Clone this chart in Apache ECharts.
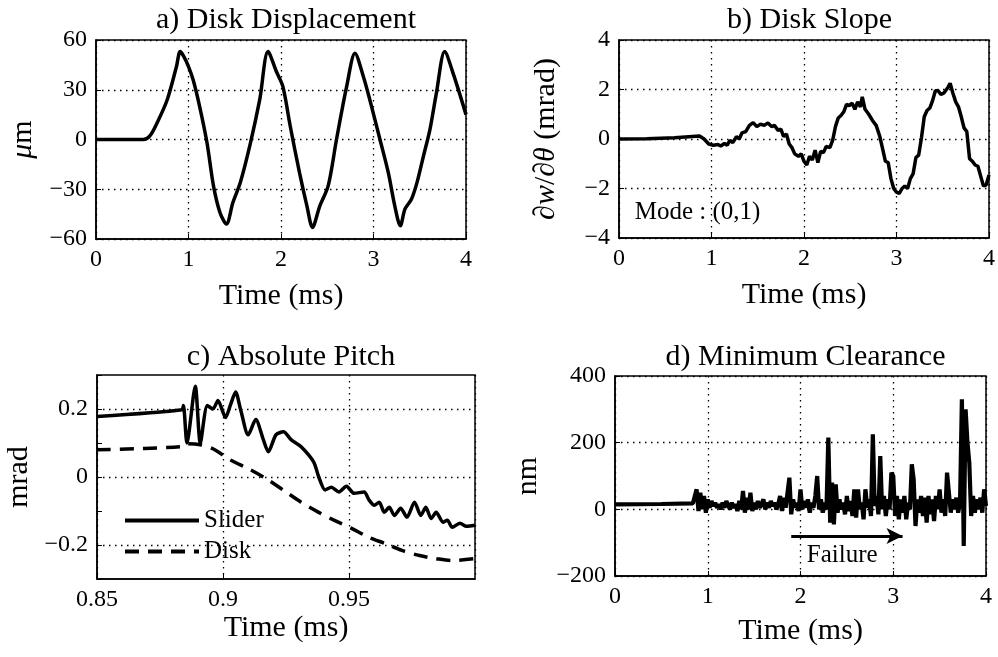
<!DOCTYPE html>
<html><head><meta charset="utf-8">
<script src="https://cdn.jsdelivr.net/npm/echarts@6/dist/echarts.min.js"></script>
<style>html,body{margin:0;padding:0;background:#fff;}#c{width:998px;height:657px;}</style>
</head><body><div id="c"></div>
<script>
// ---- Panel a: Disk displacement (um) ----
var aTime = [0, 0.3, 0.51, 0.58, 0.66, 0.77, 0.87, 0.91, 0.95, 1.0, 1.05, 1.12, 1.2, 1.27, 1.34, 1.41, 1.48, 1.56, 1.67, 1.77, 1.86, 1.95, 2.02, 2.1, 2.2, 2.28, 2.34, 2.42, 2.51, 2.6, 2.71, 2.8, 2.89, 2.96, 3.07, 3.16, 3.23, 3.29, 3.34, 3.41, 3.47, 3.54, 3.61, 3.68, 3.77, 3.86, 4.0];
var aValue = [0, 0, 0, 2, 10, 24, 44, 53, 50, 44, 36, 20, -2, -28, -44, -51, -38, -26, -2, 24, 53, 41, 32, 8, -20, -40, -53, -40, -28, 0, 32, 52, 38, 24, 0, -20, -40, -52, -42, -36, -26, -10, 6, 28, 53, 40, 15];

// ---- Panel b: Disk slope (mrad) ----
var bTime = [0, 0.3, 0.6, 0.87, 0.92, 0.97, 1.02, 1.07, 1.1, 1.14, 1.17, 1.2, 1.23, 1.27, 1.3, 1.33, 1.37, 1.41, 1.45, 1.49, 1.53, 1.57, 1.61, 1.65, 1.68, 1.72, 1.75, 1.78, 1.81, 1.84, 1.87, 1.9, 1.94, 1.97, 2.0, 2.03, 2.06, 2.09, 2.12, 2.15, 2.18, 2.21, 2.24, 2.28, 2.31, 2.34, 2.37, 2.4, 2.43, 2.46, 2.49, 2.52, 2.55, 2.58, 2.61, 2.63, 2.66, 2.7, 2.74, 2.78, 2.82, 2.85, 2.88, 2.91, 2.94, 2.97, 3.0, 3.03, 3.06, 3.09, 3.12, 3.15, 3.18, 3.21, 3.24, 3.27, 3.3, 3.33, 3.36, 3.39, 3.42, 3.45, 3.48, 3.51, 3.55, 3.58, 3.61, 3.64, 3.67, 3.7, 3.73, 3.76, 3.79, 3.82, 3.85, 3.88, 3.91, 3.94, 3.97, 4.0];
var bValue = [0, 0.01, 0.05, 0.12, 0.0, -0.2, -0.25, -0.22, -0.28, -0.18, -0.25, -0.05, -0.15, 0.1, 0.0, 0.25, 0.3, 0.55, 0.66, 0.5, 0.6, 0.55, 0.65, 0.5, 0.55, 0.35, 0.4, 0.1, 0.2, -0.2, -0.35, -0.6, -0.7, -0.6, -0.9, -1.05, -0.7, -0.85, -0.45, -0.95, -0.5, -0.55, -0.3, -0.35, -0.05, 0.5, 0.85, 0.95, 1.1, 1.4, 1.35, 1.45, 1.2, 1.5, 1.3, 1.7, 1.2, 1.0, 0.75, 0.55, 0.1, -0.4, -0.9, -0.95, -1.6, -2.0, -2.15, -2.2, -2.0, -1.9, -2.0, -1.6, -1.4, -0.75, -0.65, 0.05, 0.9, 1.15, 1.25, 1.55, 1.95, 1.95, 1.8, 1.85, 2.05, 2.25, 1.85, 1.5, 1.3, 0.9, 0.45, 0.3, -0.8, -0.9, -1.05, -1.1, -1.5, -1.9, -1.85, -1.45];

// ---- Panel c: Absolute pitch (mrad) ----
var cSliderTime = [0.85, 0.8837, 0.8843, 0.8857, 0.889, 0.891, 0.8938, 0.896, 0.898, 0.901, 0.903, 0.905, 0.907, 0.91, 0.913, 0.916, 0.918, 0.921, 0.924, 0.927, 0.931, 0.936, 0.938, 0.9405, 0.943, 0.946, 0.949, 0.952, 0.956, 0.958, 0.96, 0.962, 0.964, 0.966, 0.968, 0.9705, 0.973, 0.976, 0.9785, 0.9805, 0.9826, 0.9846, 0.9873, 0.989, 0.991, 0.994, 0.9966, 1.0];
var cSliderValue = [0.178, 0.198, 0.21, 0.10, 0.267, 0.10, 0.21, 0.2, 0.225, 0.175, 0.213, 0.25, 0.198, 0.124, 0.169, 0.11, 0.074, 0.124, 0.133, 0.11, 0.089, 0.044, 0, -0.038, -0.03, -0.044, -0.027, -0.048, -0.044, -0.068, -0.083, -0.074, -0.104, -0.089, -0.113, -0.092, -0.118, -0.074, -0.113, -0.089, -0.122, -0.104, -0.133, -0.127, -0.148, -0.136, -0.145, -0.142];
var cDiskTime = [0.85, 0.883, 0.8857, 0.891, 0.896, 0.903, 0.911, 0.918, 0.924, 0.931, 0.938, 0.944, 0.951, 0.958, 0.9645, 0.971, 0.978, 0.9845, 0.991, 1.0];
var cDiskValue = [0.08, 0.089, 0.098, 0.095, 0.083, 0.05, 0.021, -0.009, -0.039, -0.074, -0.104, -0.127, -0.151, -0.178, -0.196, -0.216, -0.231, -0.24, -0.246, -0.24];
var cGridValues = [0.2, 0, -0.2];

// ---- Panel d: Minimum clearance (nm) ----
var dStartTime = [0, 0.5, 0.84];
var dStartValue = [15, 16, 18];
var dNoiseStart = 0.86, dNoiseStep = 0.02;
var dNoiseValue = [20, 60, -5, 50, 0, 40, -10, 30, 5, 25, 10, 20, 5, 15, 0, 20, 5, 25, 30, 0, 20, 5, 15, -5, 25, 0, 55, -10, 35, 0, 50, -5, 20, 0, 25, 5, 15, 30, 0, 20, 5, 25, 10, 20, 0, 15, 40, -5, 35, 5, 50, 95, -15, 30, 5, 20, -5, 60, 0, 25, 5, 30, -10, 20, 5, 40, 100, 0, 30, -10, 20, 0, 215, -40, 80, -45, 75, -10, 30, 0, 20, -15, 40, -5, 25, -20, 60, -25, 60, 0, 20, -30, 60, 5, 30, -20, 225, 10, 40, -15, 160, 0, 40, -20, 30, 0, 110, 100, -20, 40, -30, 30, -10, 40, -30, 20, 0, 135, 90, -50, 30, -10, 40, -20, 35, -40, 40, -15, 30, -35, 40, 0, 60, -10, 30, -20, 110, 110, -10, 30, 0, 35, -10, 20, 330, -110, 300, 200, 140, -20, 40, -10, 30, 0, 35, -10, 60, 10];

// ---- Titles / labels ----
var titles = ['a) Disk Displacement', 'b) Disk Slope', 'c) Absolute Pitch', 'd) Minimum Clearance'];
var xName = 'Time (ms)';
var legendNames = ['Slider', 'Disk'];

function zip(t, v) { return t.map(function (x, i) { return [x, v[i]]; }); }
var dData = zip(dStartTime, dStartValue).concat(dNoiseValue.map(function (v, i) { return [+(dNoiseStart + i * dNoiseStep).toFixed(2), v]; }));

var FONT = '"Liberation Serif", "Times New Roman", serif';
var TF = 30, LF = 24;
var grids = [
  {left: 96, top: 40, width: 370, height: 199},
  {left: 619, top: 40, width: 371, height: 198},
  {left: 97, top: 375, width: 378, height: 204},
  {left: 615, top: 376, width: 371, height: 200}
];
grids.forEach(function (g) { g.show = true; g.borderColor = '#000'; g.borderWidth = 1.5; g.backgroundColor = '#fff'; });

function minus(v) { return String(v).replace('-', '\u2212'); }
var dotted = {show: true, lineStyle: {color: '#000', type: [1.5, 4.5], width: 1.3}};
var axLine = {show: true, onZero: false, lineStyle: {color: '#000', width: 1.5}};
var tick = {show: true, inside: true, length: 5, lineStyle: {color: '#000', width: 1}};
var lbl = {color: '#000', fontFamily: FONT, fontSize: LF, margin: 9, formatter: minus};

function xAx(i, min, max, interval, gap, extra) {
  var o = {type: 'value', gridIndex: i, min: min, max: max, interval: interval,
    name: xName, nameLocation: 'middle', nameGap: gap,
    nameTextStyle: {color: '#000', fontFamily: FONT, fontSize: TF},
    axisLine: axLine, axisTick: tick, splitLine: dotted, axisLabel: Object.assign({}, lbl)};
  return Object.assign(o, extra || {});
}
function yAx(i, min, max, interval, name, gap, extra) {
  var o = {type: 'value', gridIndex: i, min: min, max: max, interval: interval,
    name: name, nameLocation: 'middle', nameGap: gap,
    nameTextStyle: {color: '#000', fontFamily: FONT, fontSize: TF, rich: {i: {fontStyle: 'italic', fontFamily: FONT, fontSize: TF, color: '#000'}, r: {fontFamily: FONT, fontSize: TF, color: '#000'}}},
    axisLine: axLine, axisTick: tick, splitLine: dotted, axisLabel: Object.assign({}, lbl)};
  return Object.assign(o, extra || {});
}

var lineW = 3.5;
var option = {
  backgroundColor: '#fff',
  animation: false,
  title: titles.map(function (t, i) {
    var g = grids[i];
    return {text: t, left: g.left + g.width / 2, top: i < 2 ? 0 : 337, textAlign: 'center',
      textStyle: {color: '#000', fontFamily: FONT, fontSize: TF, fontWeight: 'normal'}};
  }),
  legend: {
    data: legendNames, orient: 'vertical', left: 118, top: 503, itemWidth: 74, itemHeight: 14, itemGap: 6,
    textStyle: {color: '#000', fontFamily: FONT, fontSize: 25},
    itemStyle: {opacity: 0, borderWidth: 0},
    lineStyle: {width: 4},
    backgroundColor: 'rgba(0,0,0,0)'
  },
  grid: grids,
  xAxis: [
    xAx(0, 0, 4, 1, 42),
    xAx(1, 0, 4, 1, 42),
    xAx(2, 0.85, 1.0, 0.05, 33, {axisLabel: Object.assign({}, lbl, {showMaxLabel: false, formatter: function (v) { return String(+v.toFixed(2)); }})}),
    xAx(3, 0, 4, 1, 40)
  ],
  yAxis: [
    yAx(0, -60, 60, 30, '{i|\u03bc}{r|m}', 58),
    yAx(1, -4, 4, 2, '{r|\u2202}{i|w}{r|/\u2202}{i|\u03b8}{r| (mrad)}', 58),
    yAx(2, -0.3, 0.3, 0.1, 'mrad', 63, {splitLine: {show: false}, axisLabel: Object.assign({}, lbl, {formatter: function (v) {
      var r = Math.round(v * 10) / 10; if (Math.abs(r) === 0.2 || r === 0) return minus(r); return ''; }})}),
    yAx(3, -200, 400, 200, 'nm', 72)
  ],
  series: [
    {type: 'line', xAxisIndex: 0, yAxisIndex: 0, data: zip(aTime, aValue), showSymbol: false, symbol: 'none', smooth: 0.3,
      lineStyle: {color: '#000', width: lineW}},
    {type: 'line', xAxisIndex: 1, yAxisIndex: 1, data: zip(bTime, bValue), showSymbol: false, symbol: 'none',
      lineStyle: {color: '#000', width: lineW},
      markPoint: {silent: true, symbol: 'circle', symbolSize: 0, data: [{coord: [0.17, -2.95], value: 'Mode : (0,1)'}],
        label: {show: true, position: 'right', distance: 0, formatter: 'Mode : (0,1)', color: '#000', fontFamily: FONT, fontSize: 25}}},
    {name: 'Slider', type: 'line', xAxisIndex: 2, yAxisIndex: 2, data: zip(cSliderTime, cSliderValue), showSymbol: false, symbol: 'none', smooth: 0.25,
      itemStyle: {color: '#000'}, lineStyle: {color: '#000', width: lineW},
      markLine: {silent: true, symbol: 'none', label: {show: false},
        lineStyle: {color: '#000', type: [1.5, 4.5], width: 1.3},
        data: cGridValues.map(function (v) { return {yAxis: v}; })}},
    {name: 'Disk', type: 'line', xAxisIndex: 2, yAxisIndex: 2, data: zip(cDiskTime, cDiskValue), showSymbol: false, symbol: 'none', smooth: 0.3,
      itemStyle: {color: '#000'}, lineStyle: {color: '#000', width: lineW, type: [14, 9]}},
    {type: 'line', xAxisIndex: 3, yAxisIndex: 3, data: dData, showSymbol: false, symbol: 'none',
      lineStyle: {color: '#000', width: 4.2},
      markLine: {silent: true, symbol: ['none', 'arrow'], symbolSize: [12, 16], label: {show: false},
        lineStyle: {color: '#000', type: 'solid', width: 3},
        data: [[{coord: [1.9, -80]}, {coord: [3.1, -80]}]]},
      markPoint: {silent: true, symbol: 'circle', symbolSize: 0, data: [{coord: [2.45, -137], value: 'Failure'}],
        label: {show: true, position: 'inside', formatter: 'Failure', color: '#000', fontFamily: FONT, fontSize: 25}}}
  ]
};
var chart = echarts.init(document.getElementById('c'), null, {renderer: 'canvas'});
chart.setOption(option);
</script></body></html>
